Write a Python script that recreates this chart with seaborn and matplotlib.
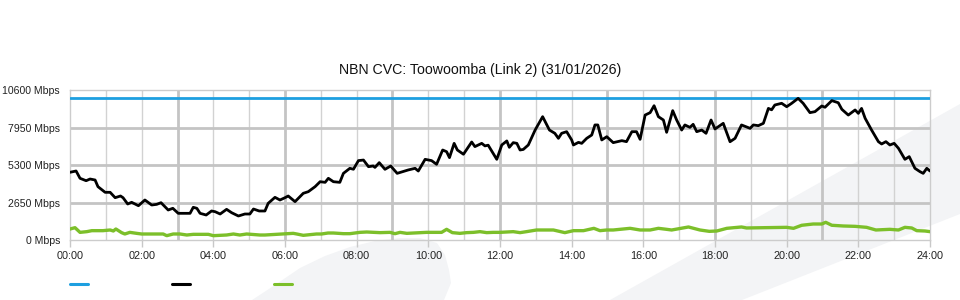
import numpy as np
import pandas as pd
import matplotlib
matplotlib.use("Agg")
import matplotlib.pyplot as plt
from matplotlib.patches import Polygon
from matplotlib.lines import Line2D
import seaborn as sns

# ---------------- data ----------------
title = "NBN CVC: Toowoomba (Link 2) (31/01/2026)"
y_ticks = [0, 2650, 5300, 7950, 10600]
y_tick_labels = ["0 Mbps", "2650 Mbps", "5300 Mbps", "7950 Mbps", "10600 Mbps"]
x_ticks = list(range(0, 25, 2))
x_tick_labels = [f"{h:02d}:00" for h in x_ticks]

capacity_hours = [0, 24]
capacity_mbps = [10000, 10000]

traffic_hours = [
    0.00, 0.17, 0.28, 0.45, 0.56, 0.70, 0.78, 0.98, 1.12, 1.26, 1.41, 1.48, 1.61, 1.72, 1.91,
    2.09, 2.28, 2.42, 2.54, 2.74, 2.87, 3.02, 3.35, 3.44, 3.54, 3.63, 3.80, 3.95, 4.05, 4.19,
    4.37, 4.51, 4.70, 4.88, 5.02, 5.12, 5.28, 5.44, 5.53, 5.72, 5.86, 6.00, 6.09, 6.28, 6.51,
    6.65, 6.84, 6.98, 7.12, 7.21, 7.35, 7.53, 7.63, 7.81, 7.91, 8.05, 8.19, 8.33, 8.46, 8.51,
    8.63, 8.79, 8.95, 9.13, 9.28, 9.44, 9.63, 9.72, 9.91, 10.09, 10.23, 10.40, 10.51, 10.59,
    10.72, 10.81, 10.98, 11.21, 11.30, 11.49, 11.58, 11.67, 11.91, 12.05, 12.19, 12.26, 12.37,
    12.47, 12.56, 12.65, 12.79, 12.98, 13.19, 13.38, 13.53, 13.63, 13.72, 13.86, 14.00, 14.05,
    14.19, 14.28, 14.42, 14.56, 14.65, 14.73, 14.84, 14.98, 15.16, 15.40, 15.53, 15.68, 15.81,
    15.91, 16.05, 16.19, 16.30, 16.42, 16.56, 16.65, 16.82, 16.93, 17.07, 17.16, 17.30, 17.39,
    17.49, 17.63, 17.75, 17.89, 18.00, 18.23, 18.42, 18.56, 18.74, 18.98, 19.07, 19.21, 19.35,
    19.49, 19.58, 19.67, 19.86, 20.00, 20.14, 20.32, 20.46, 20.65, 20.79, 20.98, 21.07, 21.26,
    21.44, 21.54, 21.72, 21.91, 22.00, 22.09, 22.19, 22.37, 22.56, 22.65, 22.77, 22.88, 23.00,
    23.12, 23.30, 23.42, 23.58, 23.72, 23.81, 23.91, 24.00,
]
traffic_mbps = [
    4785, 4876, 4360, 4190, 4310, 4240, 3770, 3370, 3370, 2990, 3110, 2990, 2544, 2663, 2424,
    2827, 2473, 2520, 2636, 2120, 2240, 1885, 1885, 2310, 2240, 1885, 1767, 2050, 2000, 1837,
    2167, 1930, 1696, 1837, 1837, 2190, 2050, 2050, 2590, 3015, 2827, 2990, 3110, 2710, 3300,
    3415, 3770, 4120, 4075, 4360, 4120, 4075, 4710, 5065, 5000, 5610, 5650, 5180, 5230, 5130,
    5465, 4995, 5230, 4710, 4830, 4950, 5065, 4875, 5700, 5610, 5350, 6360, 6240, 5820,
    6830, 6360, 6060, 6925, 6600, 6830, 6650, 6700, 5700, 6715, 7000, 6550, 6880,
    6830, 6360, 6400, 6715, 7770, 8715, 7770, 7540, 7185, 7540, 7655, 7070, 6715,
    6900, 6830, 7185, 7420, 8130, 8130, 7070, 7300, 6880, 7020, 6950, 7655, 7655,
    7115, 8830, 9000, 9490, 8715, 8480, 7610, 9140, 8480, 7770, 8130, 7960, 8175,
    7655, 7770, 7540, 8480, 7845, 8245, 6945, 7185, 8130, 7890, 8130, 8080, 8245,
    9300, 9200, 9540, 9660, 9420, 9660, 10010, 9660, 9000, 9070, 9470, 9380, 9850,
    9700, 9235, 8830, 9190, 8950, 9300, 8600, 7770, 6950, 6785, 6950, 6715, 6830,
    6480, 5700, 5890, 5065, 4830, 4710, 5065, 4875,
]

upload_hours = [
    0.00, 0.14, 0.28, 0.47, 0.61, 0.92, 1.12, 1.21, 1.28, 1.44, 1.53, 1.67, 1.86, 2.00, 2.60,
    2.70, 2.88, 3.07, 3.26, 3.44, 3.86, 4.00, 4.37, 4.56, 4.74, 4.93, 5.30, 5.44, 6.23, 6.33,
    6.51, 6.88, 7.02, 7.20, 7.35, 7.63, 7.81, 8.09, 8.28, 8.65, 8.93, 9.07, 9.21, 9.40, 9.95,
    10.37, 10.51, 10.67, 10.88, 11.07, 11.26, 11.44, 11.63, 11.81, 12.00, 12.37, 12.56, 12.74,
    13.02, 13.49, 13.81, 14.05, 14.33, 14.62, 14.79, 14.98, 15.16, 15.63, 15.91, 16.19, 16.42,
    16.65, 16.79, 17.26, 17.58, 17.84, 18.05, 18.33, 18.74, 18.88, 19.35, 20.00, 20.19, 20.42,
    20.74, 20.98, 21.09, 21.26, 21.58, 21.91, 22.23, 22.49, 22.88, 23.12, 23.30, 23.49, 23.63,
    23.86, 24.00,
]
upload_mbps = [
    777, 870, 540, 590, 660, 660, 707, 636, 777, 520, 424, 540, 470, 424, 424,
    306, 424, 424, 353, 400, 400, 306, 353, 424, 353, 424, 353, 353, 470, 424,
    330, 424, 424, 494, 494, 447, 447, 540, 565, 520, 540, 447, 540, 470, 540,
    540, 754, 520, 470, 520, 540, 590, 520, 540, 540, 590, 520, 590,
    707, 707, 520, 660, 660, 825, 660, 707, 707, 825, 707, 707, 825,
    754, 707, 920, 707, 612, 636, 825, 920, 850, 870, 895, 825, 1040,
    1130, 1130, 1250, 1040, 990, 965, 895, 707, 754, 707, 895, 850, 660,
    636, 590,
]

# ---------------- style ----------------
sns.set_style("white")
plt.rcParams["font.family"] = ["Liberation Sans", "DejaVu Sans"]

BLUE = "#1d9fe0"
BLACK = "#000000"
GREEN = "#7cbf2a"
SHAPE = "#f3f4f6"

fig = plt.figure(figsize=(9.6, 3.0), dpi=100)
fig.patch.set_facecolor("white")

W, H = 960.0, 300.0


def px(points):
    return [(x / W, 1 - y / H) for x, y in points]


# decorative background shapes (figure coordinates)
band = Polygon(px([(610, 300), (960, 104), (960, 214), (742, 300)]),
               closed=True, transform=fig.transFigure, facecolor=SHAPE,
               edgecolor="none", zorder=0)
blob = Polygon(px([(252, 300), (275, 285), (300, 268), (325, 256), (350, 247),
                   (375, 241), (400, 238), (420, 238), (437, 243), (445, 255),
                   (449, 270), (451, 283), (444, 300)]),
               closed=True, transform=fig.transFigure, facecolor=SHAPE,
               edgecolor="none", zorder=0)
fig.patches.extend([band, blob])

ax = fig.add_axes([70 / W, 1 - 240 / H, 860 / W, 150 / H])
ax.set_facecolor("none")
ax.set_zorder(1)

# grid lines
for h in range(1, 24):
    if h % 3 == 0:
        ax.axvline(h, color="#c4c4c4", lw=2.0, zorder=1)
    else:
        ax.axvline(h, color="#d2d2d2", lw=1.0, zorder=1)
for v in y_ticks[1:-1]:
    ax.axhline(v, color="#c4c4c4", lw=2.0, zorder=1)

df_cap = pd.DataFrame({"hour": capacity_hours, "mbps": capacity_mbps})
df_tr = pd.DataFrame({"hour": traffic_hours, "mbps": traffic_mbps})
df_up = pd.DataFrame({"hour": upload_hours, "mbps": upload_mbps})

sns.lineplot(data=df_cap, x="hour", y="mbps", ax=ax, color=BLUE, lw=2.0, zorder=3)
sns.lineplot(data=df_up, x="hour", y="mbps", ax=ax, color=GREEN, lw=2.4, zorder=3)
sns.lineplot(data=df_tr, x="hour", y="mbps", ax=ax, color=BLACK, lw=2.0, zorder=4)

ax.set_xlim(0, 24)
ax.set_ylim(0, 10600)
ax.set_xticks(x_ticks)
ax.set_xticklabels(x_tick_labels)
ax.set_yticks(y_ticks)
ax.set_yticklabels(y_tick_labels)
ax.set_xlabel("")
ax.set_ylabel("")
ax.tick_params(axis="x", length=5, width=1, color="#c8c8c8", pad=3,
               labelsize=7.8, labelcolor="#222222", bottom=True)
ax.tick_params(axis="y", length=0, pad=7.2, labelsize=7.6, labelcolor="#222222")
for side in ["left", "right", "top", "bottom"]:
    ax.spines[side].set_visible(True)
    ax.spines[side].set_color("#cccccc")
    ax.spines[side].set_linewidth(1.0)

fig.text(0.5, 1 - 70 / H, title, ha="center", va="center",
         fontsize=10.2, color="#111111")

handles = [Line2D([], [], color=BLUE, lw=2.2),
           Line2D([], [], color=BLACK, lw=2.2),
           Line2D([], [], color=GREEN, lw=2.2)]
fig.legend(handles, ["", "", ""], ncol=3, loc="center left",
           bbox_to_anchor=(70 / W, 1 - 285 / H), frameon=False,
           fontsize=7.6, handlelength=1.75, handletextpad=0.0,
           columnspacing=7.9, borderpad=0.0, borderaxespad=0.0)

fig.savefig("out.png", dpi=100, facecolor="white")
